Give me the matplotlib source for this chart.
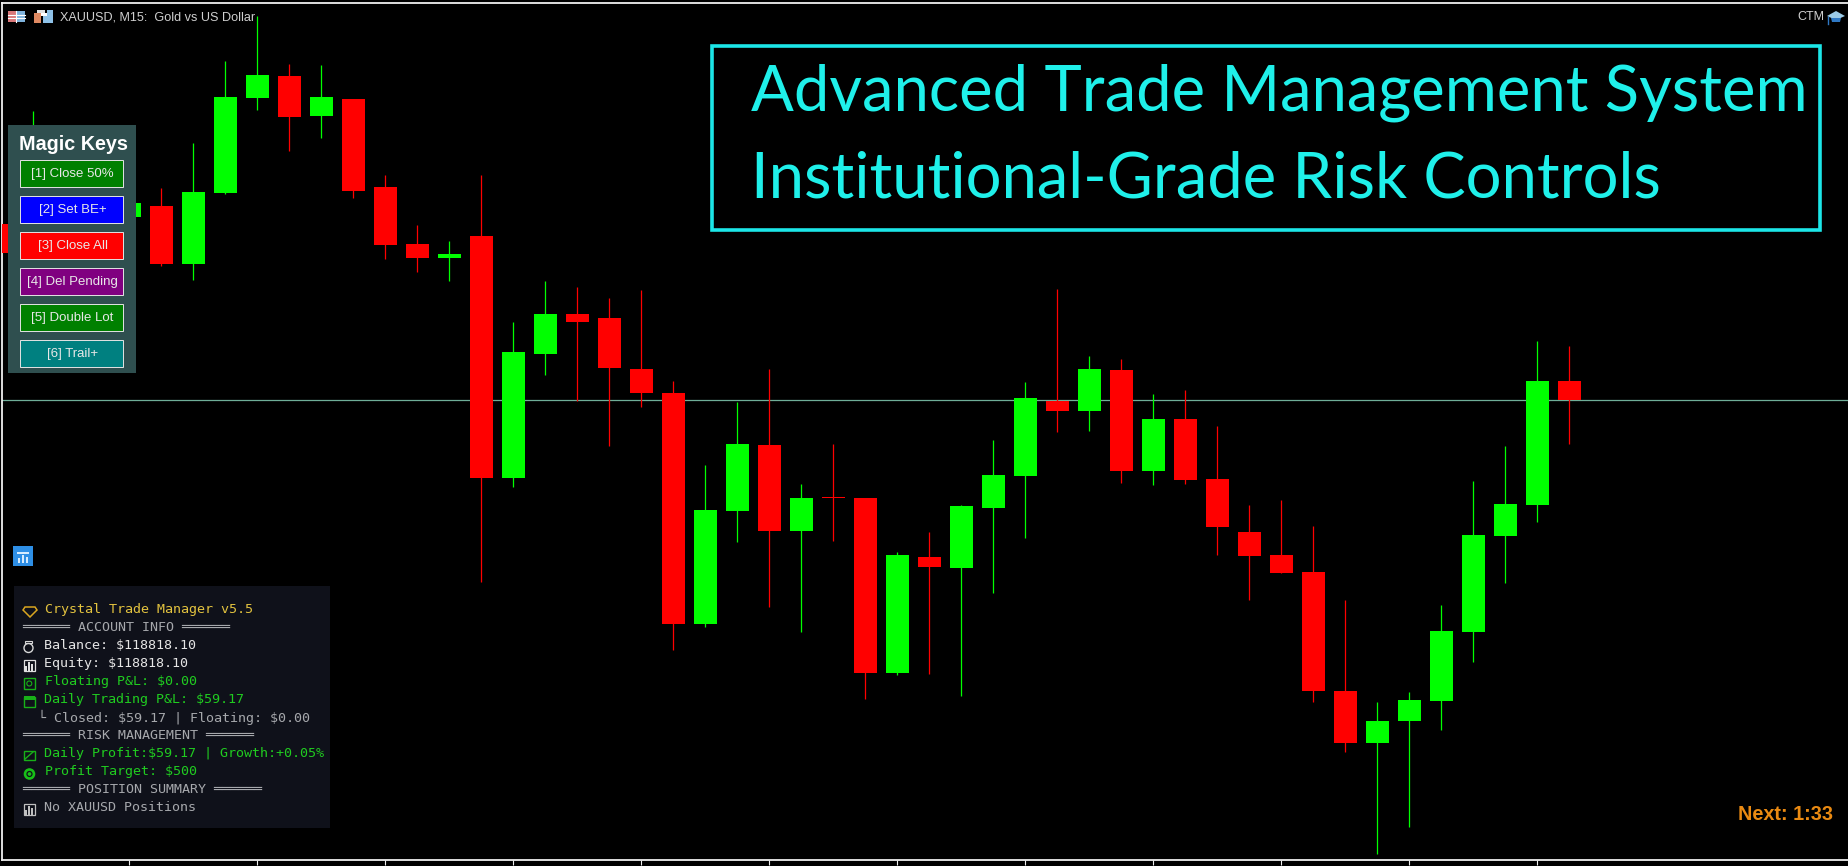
import matplotlib
matplotlib.use("Agg")
import numpy as np
import matplotlib.pyplot as plt
from matplotlib.patches import Rectangle, Circle, Polygon

# Chart values, read as rows of the picture (smaller is higher on the chart)
bar_index = [-5, -4, -1] + list(range(0, 45))
bar_high = [215, 111, 190, 188, 143, 61, 16, 64, 65, 99, 175, 225, 241, 175, 322, 281, 287, 298, 290, 381, 465, 402,
            369, 484, 444, 498, 552, 532, 505, 440, 382, 289, 356, 359, 394, 390, 426, 505, 500, 526, 600, 702, 692,
            605, 481, 446, 341, 346]
bar_top = [224, 130, 203, 206, 192, 97, 75, 76, 97, 99, 187, 244, 254, 236, 352, 314, 314, 318, 369, 393, 510, 444,
           445, 498, 497, 498, 555, 557, 506, 475, 398, 401, 369, 370, 419, 419, 479, 532, 555, 572, 691, 721, 700,
           631, 535, 504, 381, 381]
bar_bottom = [253, 200, 217, 264, 264, 193, 98, 117, 116, 191, 245, 258, 258, 478, 478, 354, 322, 368, 393, 624, 624,
              511, 531, 531, 498, 673, 673, 567, 568, 508, 476, 411, 411, 471, 471, 480, 527, 556, 573, 691, 743, 743,
              721, 701, 632, 536, 505, 400]
bar_low = [260, 210, 225, 266, 280, 194, 110, 151, 138, 198, 259, 272, 281, 582, 487, 375, 401, 446, 407, 650, 627,
           542, 607, 632, 541, 699, 675, 674, 696, 593, 538, 432, 431, 483, 485, 484, 555, 600, 573, 702, 752, 854,
           827, 730, 662, 583, 522, 444]
bar_up = [0, 1, 1, 0, 1, 1, 1, 0, 1, 0, 0, 0, 1, 0, 1, 1, 0, 0, 0, 0, 1, 1, 0, 1, 0, 0, 1, 0, 1, 1, 1, 0, 1, 0, 1, 0,
          0, 0, 0, 0, 0, 1, 1, 1, 1, 1, 1, 0]
last_price = 399.5
time_ticks = [-1, 3, 7, 11, 15, 19, 23, 27, 31, 35, 39, 43]

headline = ["Advanced Trade Management System", "Institutional-Grade Risk Controls"]
chart_title = "XAUUSD, M15:  Gold vs US Dollar"

key_labels = ["[1] Close 50%", "[2] Set BE+", "[3] Close All", "[4] Del Pending", "[5] Double Lot", "[6] Trail+"]
key_colors = ["#008000", "#0000ff", "#ff0000", "#800080", "#008000", "#008080"]

info_lines = ["Crystal Trade Manager v5.5", "══════ ACCOUNT INFO ══════", "Balance: $118818.10", "Equity: $118818.10",
              "Floating P&L: $0.00", "Daily Trading P&L: $59.17", "└ Closed: $59.17 | Floating: $0.00",
              "══════ RISK MANAGEMENT ══════", "Daily Profit:$59.17 | Growth:+0.05%", "Profit Target: $500",
              "══════ POSITION SUMMARY ══════", "No XAUUSD Positions"]
info_colors = ["#e3c33f", "#a6a8ac", "#e6e6e6", "#e6e6e6", "#20cc20", "#20cc20", "#a6a8ac", "#a6a8ac", "#20cc20",
               "#20cc20", "#a6a8ac", "#a6a8ac"]
info_x = [45, 22, 43.5, 44.5, 45, 44, 38, 22, 44, 45, 22, 44]

W, H = 1848, 866
GREEN, RED = "#00ff00", "#ff0000"
CYAN = "#1ce6e8"

fig = plt.figure(figsize=(W / 100, H / 100), dpi=100, facecolor="black")

# main chart, bar index maps to pixels through the axes limits
ax = fig.add_axes([2 / W, (H - 860) / H, (W - 2) / W, (860 - 3) / H], facecolor="black")
ax.set_xlim((2 - 161.3) / 32, (W - 161.3) / 32)
ax.set_ylim(860, 3)

x = np.array(bar_index)
colors = [GREEN if u else RED for u in bar_up]
ax.axhline(last_price, color="#6fae98", lw=0.9, zorder=1)
ax.vlines(x, bar_high, bar_low, colors=colors, lw=0.9, zorder=2)
ax.bar(x, np.array(bar_bottom) - np.array(bar_top), bottom=bar_top, width=23 / 32, color=colors, zorder=3)

for side in ["top", "left", "bottom"]:
    ax.spines[side].set_color("#f0f0f0")
    ax.spines[side].set_linewidth(1.3)
ax.spines["right"].set_visible(False)
ax.set_xticks(time_ticks)
ax.set_xticklabels([])
ax.set_yticks([])
ax.tick_params(axis="x", color="#f0f0f0", length=3.6, width=0.8)

# overlay in picture pixels for the panels and labels
ui = fig.add_axes([0, 0, 1, 1], facecolor="none")
ui.set_xlim(0, W)
ui.set_ylim(H, 0)
ui.axis("off")


def box(x0, y0, x1, y1, face="none", edge="none", lw=0.0, z=2):
    ui.add_patch(Rectangle((x0, y0), x1 - x0, y1 - y0, facecolor=face, edgecolor=edge, linewidth=lw, zorder=z))


def bars_icon(cx, cy, color):
    box(cx - 5.5, cy - 5, cx + 5.5, cy + 6, edge=color, lw=0.9, z=4)
    for dx, h in zip([-3, 0, 3], [5, 9, 7]):
        box(cx + dx - 0.9, cy + 6 - h, cx + dx + 0.9, cy + 6, face=color, z=4)


# headline box
box(711.5, 45.5, 1820, 230, edge=CYAN, lw=2.6, z=3)
ui.text(751, 111, headline[0], color="#1ff0ea", fontsize=45.6, family="Lato", va="baseline", ha="left")
ui.text(751, 198, headline[1], color="#1ff0ea", fontsize=45.6, family="Lato", va="baseline", ha="left")

# magic keys panel
box(8, 125, 136, 373, face="#2f4f4f")
ui.text(73.5, 145, "Magic Keys", color="white", fontsize=14.2, family="Liberation Sans", weight="bold",
        ha="center", va="center", zorder=5)
for i, (label, c) in enumerate(zip(key_labels, key_colors)):
    y0 = 159.5 + 36 * i
    box(19.5, y0, 123, y0 + 27, face=c, edge="#e4e4e4", lw=0.7, z=4)
    ui.text(72.5, y0 + 15, label, color="#e8e8e8", fontsize=9.5, family="Liberation Sans",
            ha="center", va="center", zorder=5)

# info panel
box(14, 586, 330, 828, face="#0f111a")
for i, line in enumerate(info_lines):
    ui.text(info_x[i], 609.5 + 18 * i, line, color=info_colors[i], fontsize=9.65, family="DejaVu Sans Mono",
            ha="left", va="center", zorder=5, parse_math=False)

# small icons beside the info lines
ui.add_patch(Polygon([(25, 607), (35, 607), (37, 610), (30, 617), (23, 610)], closed=True, fill=False,
                     edgecolor="#d9a520", lw=1.1, zorder=5))
ui.add_patch(Circle((28.5, 648), 4.5, fill=False, edgecolor="#d8d8d8", lw=1.0, zorder=5))
box(25, 641, 32, 643, edge="#d8d8d8", lw=0.8, z=5)
bars_icon(29, 665, "#e0e0e0")
box(23.5, 678, 35, 689, edge="#18b018", lw=1.0, z=5)
ui.add_patch(Circle((29.3, 683.5), 2.5, fill=False, edgecolor="#18b018", lw=0.8, zorder=5))
box(23.5, 697, 35, 707, edge="#18b018", lw=1.0, z=5)
box(23.5, 696, 35, 700, face="#18b018", z=5)
box(23.5, 751, 35, 760, edge="#18b018", lw=1.0, z=5)
ui.plot([25, 33], [759, 752], color="#18b018", lw=1.0, zorder=5)
ui.add_patch(Circle((29.5, 774), 5.8, facecolor="#18c018", edgecolor="none", zorder=5))
ui.add_patch(Circle((29.5, 774), 2.5, fill=False, edgecolor="#0f111a", lw=0.9, zorder=6))
bars_icon(29, 809, "#c0c0c0")

# chart corner labels and icons
ui.text(60.5, 17, chart_title, color="#cfcfcf", fontsize=9.1, family="Liberation Sans", ha="left", va="center")
ui.text(1797, 17.5, "CTM", color="#cfcfcf", fontsize=9, family="Liberation Sans", ha="left", va="center")
ui.add_patch(Polygon([(1827, 16), (1836, 11), (1845, 16), (1836, 20)], closed=True, facecolor="#9ccbe8", zorder=5))
ui.add_patch(Polygon([(1831, 18), (1841, 18), (1840, 22), (1832, 22)], closed=True, facecolor="#2f78c4", zorder=5))
ui.plot([1828, 1828], [17, 24], color="#2f78c4", lw=1.0, zorder=5)

box(7.5, 11, 25, 22, face="#d9787a")
box(16, 11, 25, 22, face="#7fb3dd", z=3)
for yy in [14.5, 18]:
    ui.plot([8, 25], [yy, yy], color="white", lw=0.8, zorder=4)
ui.plot([16, 16], [11, 22], color="white", lw=0.8, zorder=4)
box(34, 13, 41, 23, face="#e08a62")
box(41, 13, 47, 16, face="white", z=3)
box(47, 10, 53, 23, face="#8fc2e8")
box(43, 16, 47, 23, face="#8fc2e8", z=3)
box(37, 10, 45, 13, face="#e0e0e0", z=3)

box(13, 546, 33, 566, face="#2e8fe6")
box(17, 552, 29, 553.5, face="#d6ecff", z=3)
for bx, top in zip([18, 22, 26], [558, 555, 557]):
    box(bx, top, bx + 2, 563, face="#d6ecff", z=3)

ui.text(1738, 814, "Next: 1:33", color="#ea8a12", fontsize=14.3, family="Liberation Sans", weight="bold",
        ha="left", va="center")

fig.savefig("out.png", dpi=100, facecolor="black")
